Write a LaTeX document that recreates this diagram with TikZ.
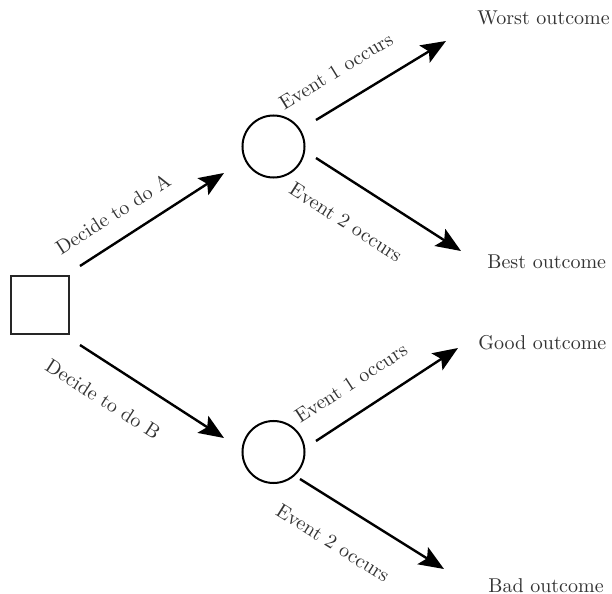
\documentclass[tikz,border=0pt]{standalone}
\usetikzlibrary{arrows.meta}

\begin{document}
\begin{tikzpicture}[x=0.5pt,y=-0.5pt]
	
	% Parameters
	\def\arw{1.2pt}
	\tikzset{
		decbox/.style={draw=black!85, line width=1pt, minimum size=29pt, inner sep=0pt},
		chance/.style={circle, draw=black, line width=1pt, minimum size=31pt, inner sep=0pt},
		branch/.style={line width=\arw, -{Stealth[length=12.5pt,width=10pt,inset=2.5pt]}},
		lbl/.style={text=black!80, inner sep=0pt, font=\normalsize},
		outc/.style={text=black!80, inner sep=0pt, anchor=west}
	}
	\useasboundingbox (0,0) rectangle (612,594);
	
	% decision and chance nodes
	\node[decbox] (dec) at (39.5,305) {};
	\node[chance] (chA) at (273.5,146.5) {};
	\node[chance] (chB) at (273.5,452) {};
	
	% outcomes
	\node[outc] (worst) at (477,18) {Worst outcome};
	\node[outc] (best) at (487,262) {Best outcome};
	\node[outc] (good) at (478,343) {Good outcome};
	\node[outc] (bad) at (488,586) {Bad outcome};
	
	% arrow ends
	\coordinate (dA0) at (80,266);   \coordinate (dA1) at (224,173);
	\coordinate (dB0) at (80,345);   \coordinate (dB1) at (224,438);
	\coordinate (aW0) at (316,120);  \coordinate (aW1) at (446,41);
	\coordinate (aB0) at (316,158);  \coordinate (aB1) at (461,251);
	\coordinate (bG0) at (316,441);  \coordinate (bG1) at (458,348);
	\coordinate (bB0) at (300,479);  \coordinate (bB1) at (444,569);
	
	% branches
	\foreach \s/\e in {dA0/dA1,dB0/dB1,aW0/aW1,aB0/aB1,bG0/bG1,bB0/bB1} {
		\draw[branch] (\s) -- (\e);
	}
	
	% branch labels
	\node[lbl, rotate=32.7] (lA) at (113,214) {Decide to do A};
	\node[lbl, rotate=-32.7] (lB) at (103,399) {Decide to do B};
	\node[lbl, rotate=31.5] (lA1) at (336,71) {Event 1 occurs};
	\node[lbl, rotate=-32.6] (lA2) at (346,222) {Event 2 occurs};
	\node[lbl, rotate=33] (lB1) at (351,383) {Event 1 occurs};
	\node[lbl, rotate=-32] (lB2) at (333,543) {Event 2 occurs};
	
\end{tikzpicture}
\end{document}
